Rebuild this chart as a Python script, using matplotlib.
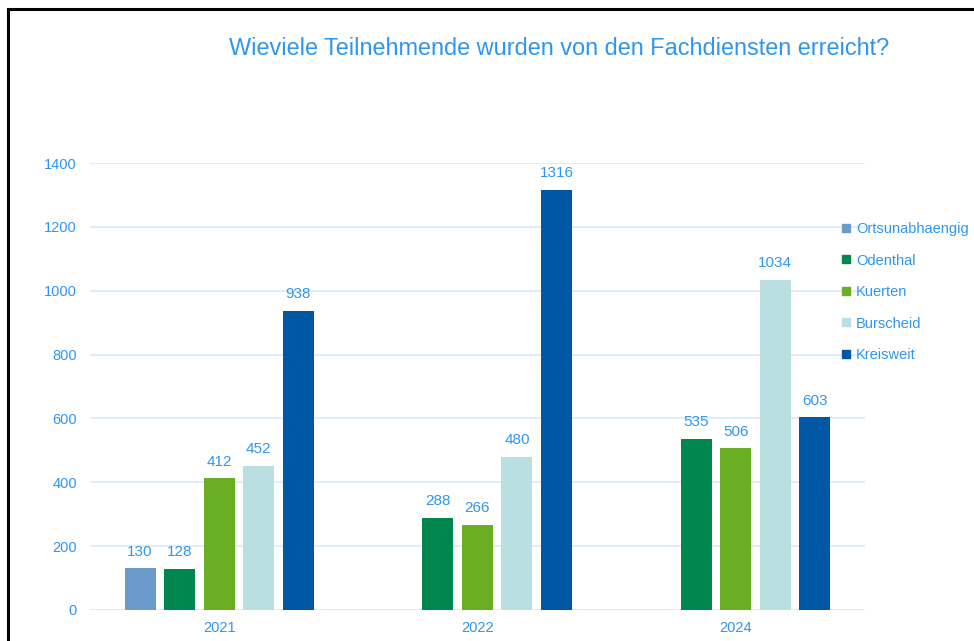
import numpy as np
import matplotlib.pyplot as plt
from matplotlib.lines import Line2D

plt.rcParams['font.family'] = ['Liberation Sans', 'DejaVu Sans']

# Daten
jahre = ['2021', '2022', '2024']
serien = ['Ortsunabhaengig', 'Odenthal', 'Kuerten', 'Burscheid', 'Kreisweit']
ortsunabhaengig = [130, np.nan, np.nan]
odenthal = [128, 288, 535]
kuerten = [412, 266, 506]
burscheid = [452, 480, 1034]
kreisweit = [938, 1316, 603]
werte = [ortsunabhaengig, odenthal, kuerten, burscheid, kreisweit]
farben = ['#6A9BCB', '#00874F', '#6AAF23', '#BADFE1', '#0057A3']

textfarbe = '#2E96F0'

fig = plt.figure(figsize=(9.74, 6.41), dpi=100)
ax = fig.add_axes([0.0924, 0.0484, 0.7956, 0.6973])

x = np.arange(len(jahre))
slot = 0.153
breite = 0.12
for i, (name, vals, farbe) in enumerate(zip(serien, werte, farben)):
    pos = x + (i - 2) * slot
    ax.bar(pos, vals, width=breite, color=farbe, label=name, zorder=3)
    for p, v in zip(pos, vals):
        if not np.isnan(v):
            ax.annotate(f'{int(v)}', (p, v), xytext=(0, 7), textcoords='offset points',
                        ha='center', va='bottom', fontsize=11, color=textfarbe)

ax.set_xlim(-0.5, 2.5)
ax.set_ylim(0, 1400)
ax.set_yticks(range(0, 1401, 200))
ax.set_xticks(x)
ax.set_xticklabels(jahre)
ax.grid(axis='y', color='#D8EAFB', linewidth=1.2, zorder=0)
for s in ax.spines.values():
    s.set_visible(False)
ax.tick_params(length=0, labelsize=10.5, colors=textfarbe)
ax.tick_params(axis='y', pad=9.5)
ax.tick_params(axis='x', pad=8)

fig.text(0.574, 0.924, 'Wieviele Teilnehmende wurden von den Fachdiensten erreicht?',
         ha='center', va='center', fontsize=16.9, color=textfarbe)

handles = [Line2D([], [], marker='s', linestyle='none', markersize=6,
                  markerfacecolor=f, markeredgecolor=f) for f in farben]
leg = fig.legend(handles, serien, loc='upper left', bbox_to_anchor=(0.857, 0.665),
                 frameon=False, fontsize=10.5, labelspacing=1.2, handlelength=0.6,
                 handletextpad=0.35, borderpad=0)
for t in leg.get_texts():
    t.set_color(textfarbe)

# Rahmen
fig.add_artist(Line2D([0.0085, 1.0], [0.986, 0.986], color='black', linewidth=2.2))
fig.add_artist(Line2D([0.0085, 0.0085], [0.0, 0.986], color='black', linewidth=2.2))

fig.savefig('out.png', dpi=100)
